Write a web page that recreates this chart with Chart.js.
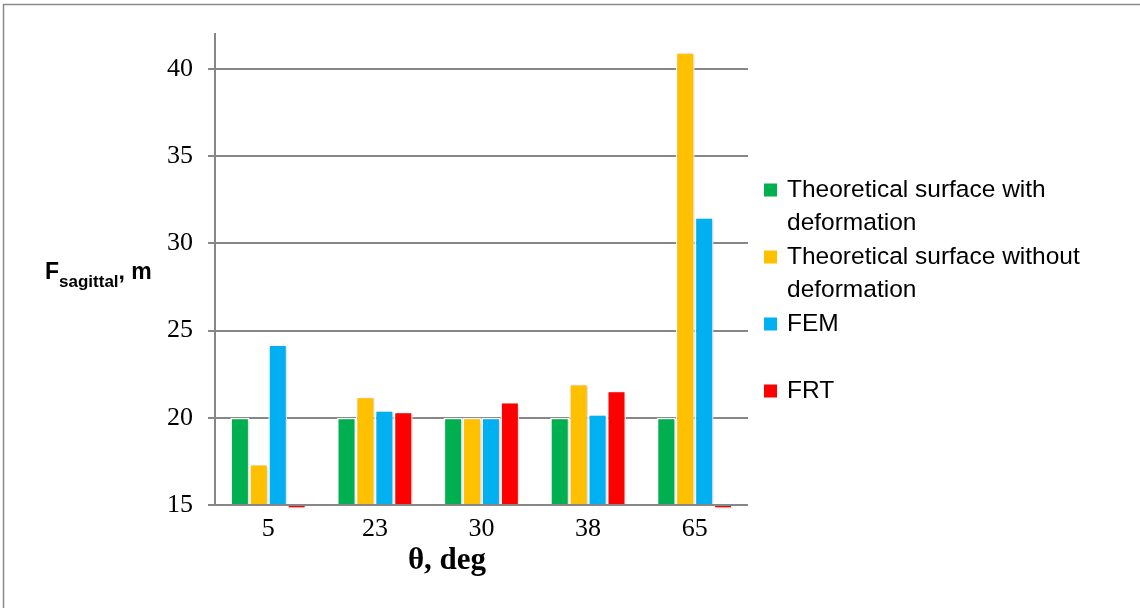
<!DOCTYPE html>
<html>
<head>
<meta charset="utf-8">
<script src="https://cdn.jsdelivr.net/npm/chart.js@4.4.0/dist/chart.umd.min.js"></script>
<style>
  html, body { margin: 0; padding: 0; background: #ffffff; }
  canvas { display: block; }
</style>
</head>
<body>
<canvas id="chart" width="1140" height="608"></canvas>
<script>
// Sagittal focal distance per incidence angle
const angles = ['5', '23', '30', '38', '65'];
const withDeformation = [20, 20, 20, 20, 20];
const withoutDeformation = [17.35, 21.2, 20, 21.94, 40.95];
const femValues = [24.2, 20.43, 20, 20.2, 31.5];
const frtValues = [14.8, 20.35, 20.9, 21.55, 14.8];
const yTicks = [15, 20, 25, 30, 35, 40];

const seriesNames = [
  'Theoretical surface with deformation',
  'Theoretical surface without deformation',
  'FEM',
  'FRT'
];
const seriesColors = ['#00B050', '#FFC000', '#00B0F0', '#FF0000'];
const seriesValues = [withDeformation, withoutDeformation, femValues, frtValues];

const Y_MIN = 15;
const Y_MAX = 42;
const GRID = '#878787';
const SANS = '"Liberation Sans", Arial, sans-serif';
const SERIF = '"Liberation Serif", "Times New Roman", serif';

// Outer frame of the figure
const framePlugin = {
  id: 'frame',
  beforeDraw(chart) {
    const ctx = chart.ctx;
    ctx.save();
    ctx.strokeStyle = '#8a8a8a';
    ctx.lineWidth = 1.5;
    ctx.beginPath();
    ctx.moveTo(3.5, chart.height);
    ctx.lineTo(3.5, 4.5);
    ctx.lineTo(chart.width, 4.5);
    ctx.stroke();
    ctx.restore();
  }
};

// Soft drop shadow under the bars
const shadowPlugin = {
  id: 'barShadow',
  beforeDatasetsDraw(chart) {
    const ctx = chart.ctx;
    ctx.save();
    ctx.shadowColor = 'rgba(0,0,0,0.22)';
    ctx.shadowBlur = 3;
    ctx.shadowOffsetX = 1;
    ctx.shadowOffsetY = 1;
  },
  afterDatasetsDraw(chart) {
    chart.ctx.restore();
  }
};

// Axis titles (with subscript) and the wrapped legend on the right
const annotationsPlugin = {
  id: 'annotations',
  afterDraw(chart) {
    const ctx = chart.ctx;
    ctx.save();
    ctx.fillStyle = '#000';

    // x-axis title
    ctx.font = 'bold 31px ' + SERIF;
    ctx.textAlign = 'center';
    ctx.textBaseline = 'alphabetic';
    ctx.fillText('θ, deg', 447, 569);

    // y-axis title: F with subscript "sagittal"
    ctx.textAlign = 'left';
    let x = 45;
    ctx.font = 'bold 23px ' + SANS;
    ctx.fillText('F', x, 279);
    x += ctx.measureText('F').width;
    ctx.font = 'bold 17px ' + SANS;
    ctx.fillText('sagittal', x, 287);
    x += ctx.measureText('sagittal').width;
    ctx.font = 'bold 23px ' + SANS;
    ctx.fillText(', m', x, 279);

    // legend
    const legendX = 764;
    const textX = 787;
    const firstY = 190;
    const pitch = 67;
    const lineH = 33;
    const maxW = 330;
    ctx.font = '24.5px ' + SANS;
    ctx.textBaseline = 'middle';
    chart.data.datasets.forEach((ds, i) => {
      const cy = firstY + i * pitch;
      ctx.fillStyle = ds.backgroundColor;
      ctx.fillRect(legendX, cy - 6.5, 13, 13);
      ctx.fillStyle = '#000';
      const words = ds.label.split(' ');
      const lines = [];
      let cur = '';
      words.forEach(w => {
        const test = cur ? cur + ' ' + w : w;
        if (ctx.measureText(test).width > maxW && cur) {
          lines.push(cur);
          cur = w;
        } else {
          cur = test;
        }
      });
      if (cur) lines.push(cur);
      lines.forEach((ln, k) => ctx.fillText(ln, textX, cy + k * lineH));
    });
    ctx.restore();
  }
};

const datasets = seriesNames.map((name, i) => ({
  label: name,
  data: seriesValues[i],
  base: Y_MIN,
  backgroundColor: seriesColors[i],
  borderColor: '#ffffff',
  borderWidth: 1.5,
  categoryPercentage: 0.71,
  barPercentage: 1.0,
  clip: false
}));

new Chart(document.getElementById('chart'), {
  type: 'bar',
  data: { labels: angles, datasets },
  options: {
    responsive: false,
    animation: false,
    events: [],
    layout: { padding: { left: 0, top: 34, right: 392, bottom: 0 } },
    plugins: {
      legend: { display: false },
      tooltip: { enabled: false },
      title: { display: false }
    },
    scales: {
      x: {
        grid: { display: false },
        border: { display: false },
        ticks: {
          color: '#000',
          padding: 1,
          font: { family: SERIF, size: 26 }
        },
        afterFit(scale) { scale.height = 103; }
      },
      y: {
        min: Y_MIN,
        max: Y_MAX,
        grid: {
          color: GRID,
          lineWidth: 2,
          tickLength: 7,
          drawTicks: true
        },
        border: { display: true, color: GRID, width: 2 },
        ticks: {
          color: '#000',
          padding: 15,
          font: { family: SERIF, size: 26 }
        },
        afterBuildTicks(scale) {
          scale.ticks = yTicks.map(v => ({ value: v }));
        },
        afterFit(scale) { scale.width = 215; }
      }
    }
  },
  plugins: [framePlugin, shadowPlugin, annotationsPlugin]
});
</script>
</body>
</html>
